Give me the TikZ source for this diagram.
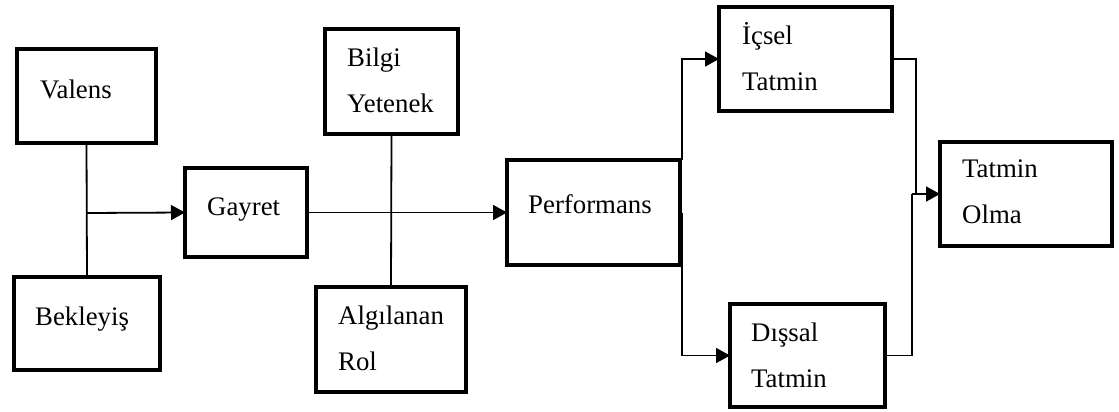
\documentclass[tikz,border=0pt]{standalone}
\usepackage{fontspec}
\setmainfont{Liberation Serif}
\usetikzlibrary{arrows.meta}
\begin{document}
\begin{tikzpicture}[x=1pt,y=-1pt,
  box/.style={draw,line width=4.5pt,rectangle,inner sep=0pt,outer sep=0pt},
  lbl/.style={anchor=base west,inner sep=0pt,align=left,font=\fontsize{26.8}{46}\selectfont},
  wire/.style={line width=1.8pt},
  arr/.style={wire,-{Triangle[length=14pt,width=15pt]}}]
\useasboundingbox (0,0) rectangle (1119,412);

% boxes
\node[box,minimum width=139pt,minimum height=94pt]  (val)  at (86.5,96)   {};
\node[box,minimum width=146pt,minimum height=93pt]  (bek)  at (87,323.5)  {};
\node[box,minimum width=122pt,minimum height=89pt]  (gay)  at (246,212.5) {};
\node[box,minimum width=133pt,minimum height=105pt] (bil)  at (391.5,81.5) {};
\node[box,minimum width=150pt,minimum height=105pt] (alg)  at (391,339.5) {};
\node[box,minimum width=173pt,minimum height=105pt] (perf) at (593.5,212.5) {};
\node[box,minimum width=173pt,minimum height=104pt] (ic)   at (805.5,59)  {};
\node[box,minimum width=155pt,minimum height=103pt] (dis)  at (807.5,355.5) {};
\node[box,minimum width=172pt,minimum height=104pt] (tat)  at (1026,194)  {};

% labels (two-line labels are placed by the baseline of their last line)
\node[lbl] (tval)  at (40,98)   {Valens};
\node[lbl] (tbek)  at (35,325)  {Bekleyiş};
\node[lbl] (tgay)  at (207,215) {Gayret};
\node[lbl] (tbil)  at (347,112) {Bilgi\\Yetenek};
\node[lbl] (talg)  at (338,370) {Algılanan\\Rol};
\node[lbl] (tperf) at (528,213) {Performans};
\node[lbl] (tic)   at (742,90)  {İçsel\\Tatmin};
\node[lbl] (tdis)  at (751,387) {Dışsal\\Tatmin};
\node[lbl] (ttat)  at (962,223) {Tatmin\\Olma};

% connectors
\coordinate (j1) at (87,213);
\draw[wire] (val.south) -- (bek.north);
\draw[arr] (j1) -- (gay.west);
\draw[wire] (bil.south) -- (alg.north);
\draw[arr] (gay.east) -- (perf.west);
\draw[arr] ([xshift=2pt]perf.north east) |- (ic.west);
\draw[arr] ([xshift=2pt]perf.east) |- (dis.west);
\coordinate (j2) at (916,194);
\coordinate (j3) at (912,194);
\draw[wire] (ic.east) -| (j2);
\draw[wire] (dis.east) -| (j3);
\draw[arr] (j3) -- (tat.west);
\end{tikzpicture}
\end{document}
